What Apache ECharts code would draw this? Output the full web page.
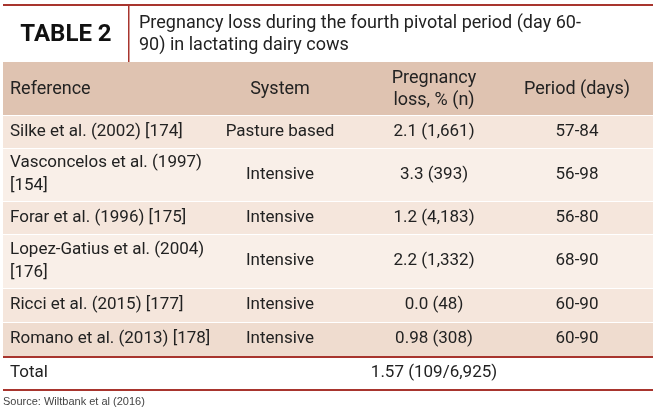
<!DOCTYPE html>
<html>
<head>
<meta charset="utf-8">
<script src="https://cdn.jsdelivr.net/npm/echarts@6/dist/echarts.min.js"></script>
<style>html,body{margin:0;padding:0;background:#fff}#c{width:656px;height:410px}</style>
</head>
<body>
<div id="c"></div>
<script>
// table content
const headers = ['Reference', 'System', 'Pregnancy\nloss, % (n)', 'Period (days)'];
const references = ['Silke et al. (2002) [174]', 'Vasconcelos et al. (1997)\n[154]', 'Forar et al. (1996) [175]',
    'Lopez-Gatius et al. (2004)\n[176]', 'Ricci et al. (2015) [177]', 'Romano et al. (2013) [178]'];
const systems = ['Pasture based', 'Intensive', 'Intensive', 'Intensive', 'Intensive', 'Intensive'];
const losses = ['2.1 (1,661)', '3.3 (393)', '1.2 (4,183)', '2.2 (1,332)', '0.0 (48)', '0.98 (308)'];
const periods = ['57-84', '56-98', '56-80', '68-90', '60-90', '60-90'];
const totalRow = ['Total', '', '1.57 (109/6,925)', ''];

const L = 3, R = 653;
const bodyFont = '"Liberation Sans Narrow", Roboto, sans-serif';
const headFont = 'Roboto, "Noto Sans", sans-serif';
const red = '#a8352e';
const colX = [10, 280, 434, 577];
const rowH = [33, 53, 33, 54, 34, 34];
const rowFill = ['#f5e6dc', '#f9efe8', '#f5e6dc', '#f9efe8', '#f5e6dc', '#efdccf'];

let g = [];
// title block
g.push({type: 'rect', shape: {x: L, y: 4, width: R - L, height: 2}, style: {fill: red}});
g.push({type: 'rect', shape: {x: 128, y: 6, width: 1.5, height: 56}, style: {fill: red}});
g.push({type: 'text', x: 66, y: 35, style: {text: 'TABLE 2', font: 'bold 24px ' + headFont, fill: '#111', align: 'center', verticalAlign: 'middle'}});
g.push({type: 'text', x: 139, y: 34, style: {text: 'Pregnancy loss during the fourth pivotal period (day 60-\n90) in lactating dairy cows', font: '18px ' + headFont, lineHeight: 22, fill: '#222', verticalAlign: 'middle'}});
// header row
g.push({type: 'rect', shape: {x: L, y: 62, width: R - L, height: 53}, style: {fill: '#dfc3b1'}});
headers.forEach((h, i) => g.push({type: 'text', x: colX[i], y: 89,
    style: {text: h, font: '18px ' + headFont, lineHeight: 22, fill: '#222', align: i ? 'center' : 'left', verticalAlign: 'middle'}}));
// body rows
let y = 115;
references.forEach((ref, r) => {
    const h = rowH[r], cy = y + h / 2;
    g.push({type: 'rect', shape: {x: L, y: y + 1, width: R - L, height: h - 1}, style: {fill: rowFill[r]}});
    [ref, systems[r], losses[r], periods[r]].forEach((t, i) => g.push({type: 'text', x: colX[i], y: cy,
        style: {text: t, font: '17px ' + bodyFont, lineHeight: 23, fill: '#222', align: i ? 'center' : 'left', verticalAlign: 'middle'}}));
    y += h;
});
g.push({type: 'rect', shape: {x: L, y: y, width: R - L, height: 2}, style: {fill: red}});
totalRow.forEach((t, i) => g.push({type: 'text', x: colX[i], y: y + 17,
    style: {text: t, font: '17px ' + bodyFont, fill: '#222', align: i ? 'center' : 'left', verticalAlign: 'middle'}}));
g.push({type: 'rect', shape: {x: L, y: y + 33, width: R - L, height: 2}, style: {fill: red}});
g.push({type: 'text', x: 3, y: y + 46, style: {text: 'Source: Wiltbank et al (2016)', font: '11px "Liberation Sans", sans-serif', fill: '#444', verticalAlign: 'middle'}});

const chart = echarts.init(document.getElementById('c'));
chart.setOption({graphic: g});
</script>
</body>
</html>
